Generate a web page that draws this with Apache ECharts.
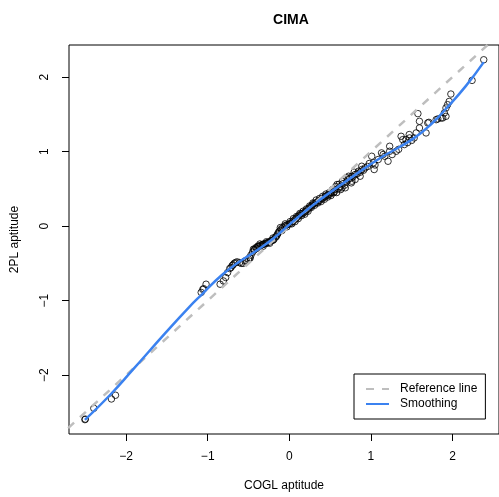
<!DOCTYPE html>
<html>
<head>
<meta charset="utf-8">
<script src="https://cdn.jsdelivr.net/npm/echarts@6/dist/echarts.min.js"></script>
<style>
  html, body { margin: 0; padding: 0; background: #fff; }
  #main { width: 499px; height: 497px; }
</style>
</head>
<body>
<div id="main"></div>
<script>
// tick values (R style axes)
var xTicks = [-2, -1, 0, 1, 2];
var yTicks = [-2, -1, 0, 1, 2];

// observed points: COGL aptitude (x) vs 2PL aptitude (y)
var pointX = [
  -2.505, -2.50, -2.396, -2.18, -2.13,
  -1.08, -1.06, -1.05, -1.02,
  -0.848, -0.808, -0.78, -0.756, -0.73, -0.715, -0.70, -0.69, -0.675, -0.66, -0.64, -0.61, -0.59, -0.566, -0.545, -0.526,
  -0.50, -0.485, -0.47, -0.45, -0.43, -0.424, -0.41, -0.39, -0.384, -0.37, -0.35, -0.33, -0.324, -0.31, -0.29, -0.27, -0.263,
  -0.25, -0.23, -0.21, -0.20, -0.19, -0.17, -0.15, -0.13, -0.12, -0.10, -0.08, -0.06, -0.04, -0.02,
  0.0, 0.02, 0.04, 0.06, 0.08, 0.10, 0.12, 0.14, 0.16, 0.18, 0.20, 0.22, 0.24, 0.26, 0.28, 0.30,
  0.32, 0.34, 0.36, 0.38, 0.40, 0.42, 0.44, 0.46, 0.48, 0.50, 0.52, 0.545, 0.56, 0.585, 0.60, 0.62,
  0.646, 0.66, 0.686, 0.707, 0.72, 0.727, 0.767, 0.767, 0.795, 0.807, 0.807, 0.83, 0.848, 0.868,
  0.868, 0.888, 0.888, 0.91, 0.929, 0.96, 0.98,
  -0.48, -0.44, -0.40, -0.36, -0.32, -0.28, -0.24, -0.20, -0.16, -0.14, -0.11, -0.09, -0.05, -0.03,
  0.01, 0.03, 0.05, 0.07, 0.09, 0.11, 0.13, 0.15, 0.17, 0.19, 0.21, 0.23, 0.25, 0.27, 0.29, 0.31,
  0.33, 0.35, 0.37, 0.39, 0.41, 0.43, 0.45, 0.47, 0.49, 0.51, 0.53, 0.55, 0.57, 0.58, 0.61, 0.63,
  0.65, 0.68, 0.70, 0.74, 0.76, 0.78,
  1.01, 1.04, 1.03, 1.05, 1.09, 1.13, 1.15, 1.17, 1.21, 1.23, 1.23, 1.26, 1.31, 1.34, 1.37, 1.39,
  1.41, 1.43, 1.45, 1.47, 1.474, 1.50, 1.53, 1.555, 1.576, 1.595, 1.595, 1.676, 1.697, 1.71, 1.80,
  1.82, 1.86, 1.88, 1.90, 1.92, 1.92, 1.94, 1.96, 1.98, 2.24, 2.383
];
var pointY = [
  -2.597, -2.59, -2.445, -2.32, -2.27,
  -0.89, -0.85, -0.84, -0.78,
  -0.78, -0.736, -0.69, -0.624, -0.57, -0.557, -0.53, -0.52, -0.50, -0.49, -0.48, -0.49, -0.50, -0.50, -0.468, -0.468,
  -0.44, -0.423, -0.39, -0.35, -0.32, -0.312, -0.29, -0.28, -0.268, -0.27, -0.26, -0.25, -0.245, -0.24, -0.235, -0.225, -0.222,
  -0.215, -0.20, -0.19, -0.19, -0.18, -0.15, -0.12, -0.08, -0.065, -0.04, -0.02, 0.0, 0.01, 0.02,
  0.03, 0.04, 0.06, 0.08, 0.10, 0.12, 0.14, 0.16, 0.17, 0.18, 0.20, 0.22, 0.24, 0.26, 0.28, 0.30,
  0.31, 0.32, 0.34, 0.35, 0.37, 0.38, 0.40, 0.41, 0.42, 0.43, 0.45, 0.447, 0.49, 0.558, 0.50, 0.53,
  0.514, 0.57, 0.514, 0.648, 0.62, 0.669, 0.602, 0.669, 0.723, 0.692, 0.625, 0.70, 0.736, 0.669,
  0.723, 0.759, 0.803, 0.75, 0.781, 0.80, 0.84,
  -0.43, -0.31, -0.30, -0.24, -0.27, -0.21, -0.23, -0.16, -0.14, -0.10, -0.02, -0.06, 0.03, -0.01,
  0.06, 0.03, 0.10, 0.06, 0.13, 0.10, 0.17, 0.14, 0.20, 0.16, 0.23, 0.20, 0.27, 0.25, 0.31, 0.28,
  0.35, 0.31, 0.37, 0.33, 0.40, 0.36, 0.43, 0.39, 0.45, 0.41, 0.49, 0.46, 0.53, 0.45, 0.56, 0.49,
  0.60, 0.55, 0.59, 0.64, 0.58, 0.66,
  0.937, 0.759, 0.849, 0.82, 0.893, 0.982, 0.96, 0.937, 0.870, 1.071, 1.004, 0.96, 1.004, 1.03, 1.205, 1.16,
  1.094, 1.161, 1.12, 1.228, 1.183, 1.15, 1.183, 1.25, 1.509, 1.317, 1.406, 1.25, 1.384, 1.392, 1.428,
  1.438, 1.451, 1.451, 1.518, 1.473, 1.585, 1.629, 1.673, 1.772, 1.955, 2.232
];

// reference line y = x (ends lie outside the plot box and get clipped)
var refX = [-3, 3];
var refY = [-3, 3];

// smoothing curve
var smoothX = [-2.505, -2.2, -1.92, -1.515, -1.23, -1.07, -0.83, -0.626, -0.405, -0.2, 0, 0.3, 0.707, 1.11, 1.515, 1.76, 1.92, 2.16, 2.383];
var smoothY = [-2.60, -2.27, -1.93, -1.43, -1.09, -0.915, -0.66, -0.49, -0.33, -0.17, 0.02, 0.29, 0.61, 0.91, 1.17, 1.39, 1.575, 1.875, 2.20];

function zip(a, b) {
  return a.map(function (v, i) { return [v, b[i]]; });
}
function minusFmt(v) {
  return v < 0 ? '\u2212' + Math.abs(v) : String(v);
}

var font = 'Liberation Sans, Arial, Helvetica, sans-serif';
var myChart = echarts.init(document.getElementById('main'));

var option = {
  animation: false,
  backgroundColor: '#fff',
  title: {
    text: 'CIMA',
    left: 286,
    top: 8,
    textAlign: 'center',
    textStyle: { fontFamily: font, fontSize: 14, fontWeight: 'bold', color: '#000' }
  },
  legend: {
    orient: 'vertical',
    left: 354,
    top: 374,
    padding: [9, 8, 9, 11],
    itemWidth: 23,
    itemHeight: 12,
    itemGap: 3,
    borderColor: '#000',
    borderWidth: 1,
    borderRadius: 0,
    backgroundColor: '#fff',
    // hide the symbol, keep only the line
    itemStyle: { color: 'transparent', borderColor: 'transparent', borderWidth: 0 },
    data: ['Reference line', 'Smoothing'],
    textStyle: { fontFamily: font, fontSize: 12, color: '#000', padding: [0, 0, 0, 6] }
  },
  grid: {
    left: 69,
    top: 45,
    right: -5,
    bottom: 62,
    show: true,
    borderColor: '#000',
    borderWidth: 1,
    backgroundColor: 'transparent'
  },
  xAxis: {
    type: 'value',
    min: -2.70,
    max: 2.57,
    name: 'COGL aptitude',
    nameLocation: 'middle',
    nameGap: 46,
    nameTextStyle: { fontFamily: font, fontSize: 12, color: '#000' },
    axisLine: { show: false, onZero: false },
    splitLine: { show: false },
    axisTick: { show: true, length: 7, customValues: xTicks, lineStyle: { color: '#000' } },
    axisLabel: {
      show: true,
      margin: 17,
      customValues: xTicks,
      formatter: minusFmt,
      fontFamily: font,
      fontSize: 12,
      color: '#000'
    }
  },
  yAxis: {
    type: 'value',
    min: -2.79,
    max: 2.43,
    name: '2PL aptitude',
    nameLocation: 'middle',
    nameGap: 48,
    nameRotate: 90,
    nameTextStyle: { fontFamily: font, fontSize: 12, color: '#000' },
    axisLine: { show: false, onZero: false },
    splitLine: { show: false },
    axisTick: { show: true, length: 7, customValues: yTicks, lineStyle: { color: '#000' } },
    axisLabel: {
      show: true,
      rotate: 90,
      margin: 18,
      customValues: yTicks,
      formatter: minusFmt,
      fontFamily: font,
      fontSize: 12,
      color: '#000'
    }
  },
  series: [
    {
      name: 'points',
      type: 'scatter',
      data: zip(pointX, pointY),
      symbol: 'circle',
      symbolSize: 6.5,
      itemStyle: { color: 'transparent', borderColor: '#000', borderWidth: 1 },
      z: 2
    },
    {
      name: 'Reference line',
      type: 'line',
      data: zip(refX, refY),
      showSymbol: false,
      symbol: 'none',
      clip: true,
      color: '#bebebe',
      lineStyle: { color: '#bebebe', width: 2.5, type: [8, 8] },
      z: 3
    },
    {
      name: 'Smoothing',
      type: 'line',
      data: zip(smoothX, smoothY),
      smooth: 0.5,
      showSymbol: false,
      symbol: 'none',
      color: '#3b82f0',
      lineStyle: { color: '#3b82f0', width: 2.5 },
      z: 4
    }
  ]
};
option && myChart.setOption(option, true);
</script>
</body>
</html>
